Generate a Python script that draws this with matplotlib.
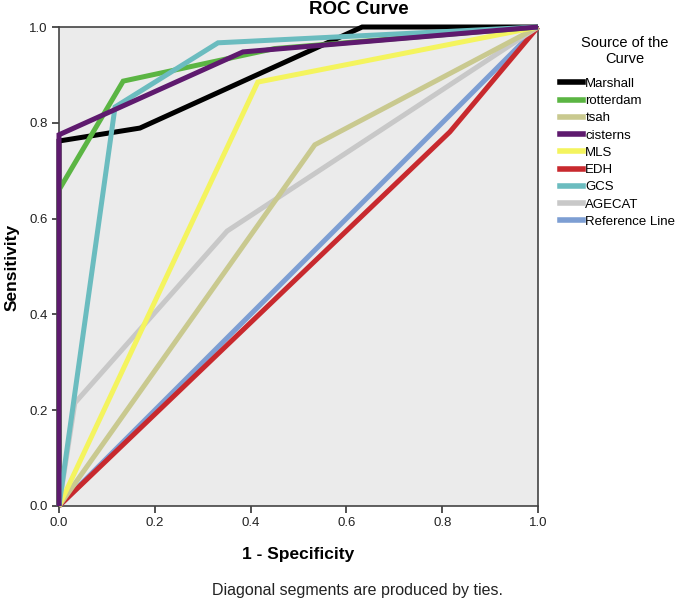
import matplotlib
matplotlib.use('Agg')
import matplotlib.pyplot as plt
from matplotlib.lines import Line2D

# ROC curve points (1 - specificity, sensitivity)
marshall_x = [0.0, 0.0, 0.169, 0.633, 1.0]
marshall_y = [0.0, 0.762, 0.789, 1.0, 1.0]
rotterdam_x = [0.0, 0.0, 0.134, 0.45, 1.0]
rotterdam_y = [0.0, 0.66, 0.887, 0.955, 1.0]
tsah_x = [0.0, 0.534, 1.0]
tsah_y = [0.0, 0.754, 1.0]
cisterns_x = [0.0, 0.0, 0.384, 1.0]
cisterns_y = [0.0, 0.775, 0.948, 1.0]
mls_x = [0.0, 0.415, 1.0]
mls_y = [0.0, 0.885, 1.0]
edh_x = [0.0, 0.816, 1.0]
edh_y = [0.0, 0.781, 1.0]
gcs_x = [0.0, 0.117, 0.332, 1.0]
gcs_y = [0.0, 0.833, 0.967, 1.0]
agecat_x = [0.0, 0.033, 0.351, 1.0]
agecat_y = [0.0, 0.215, 0.574, 1.0]
ref_x = [0.0, 1.0]
ref_y = [0.0, 1.0]

names = ['Marshall', 'rotterdam', 'tsah', 'cisterns', 'MLS', 'EDH', 'GCS',
         'AGECAT', 'Reference Line']
colors = ['#000000', '#5bb543', '#c9c98f', '#5e1a6e', '#f4f45e', '#c8292e',
          '#6bbcbf', '#c8c8c8', '#7d9ed3']
curves = [(marshall_x, marshall_y), (rotterdam_x, rotterdam_y), (tsah_x, tsah_y),
          (cisterns_x, cisterns_y), (mls_x, mls_y), (edh_x, edh_y),
          (gcs_x, gcs_y), (agecat_x, agecat_y), (ref_x, ref_y)]

W, H = 681, 604
fig = plt.figure(figsize=(W / 100, H / 100), dpi=100)
ax = fig.add_axes([59 / W, 98 / H, 479 / W, 479 / H])
ax.set_facecolor('#ebebeb')

# draw order so the overlaps look like the original
order = [8, 5, 7, 2, 4, 0, 1, 6, 3]
for i in order:
    x, y = curves[i]
    ax.plot(x, y, color=colors[i], lw=3.6, solid_joinstyle='miter',
            solid_capstyle='butt', clip_on=False, zorder=3)

ax.set_xlim(0, 1)
ax.set_ylim(0, 1)
ticks = [0.0, 0.2, 0.4, 0.6, 0.8, 1.0]
ax.set_xticks(ticks)
ax.set_yticks(ticks)
ax.set_xticklabels(['%.1f' % t for t in ticks], family='Liberation Sans',
                   fontsize=9.5, color='#222222')
ax.set_yticklabels(['%.1f' % t for t in ticks], family='Liberation Sans',
                   fontsize=9.5, color='#222222')
ax.tick_params(length=5, width=1.2, color='#333333', pad=3)
for s in ax.spines.values():
    s.set_color('#444444')
    s.set_linewidth(1.2)

fig.text(298 / W, 1 - 555 / H, '1 - Specificity', ha='center', va='center',
         family='Liberation Sans', fontweight='bold', fontsize=12.5)
fig.text(12 / W, 1 - 267 / H, 'Sensitivity', ha='center', va='center',
         rotation=90, family='Liberation Sans', fontweight='bold', fontsize=12.5)
fig.text(359 / W, 1 - 10 / H, 'ROC Curve', ha='center', va='center',
         family='Liberation Sans', fontweight='bold', fontsize=13.5)

fig.text(625 / W, 1 - 51 / H, 'Source of the\nCurve', ha='center', va='center',
         family='Liberation Sans', fontsize=10.5, linespacing=1.1)

handles = [Line2D([], [], color=c, lw=4) for c in colors]
leg = fig.legend(handles, names, loc='upper left',
                 bbox_to_anchor=(557 / W, 1 - 75 / H),
                 frameon=False, prop={'family': 'Liberation Sans', 'size': 9.5},
                 handlelength=1.8, handletextpad=0.15, labelspacing=0.38,
                 borderpad=0.2, borderaxespad=0)

fig.text(358 / W, 1 - 590 / H, 'Diagonal segments are produced by ties.',
         ha='center', va='center', family='Liberation Sans', fontsize=11.5,
         color='#222222')

fig.savefig('out.png', dpi=100)
